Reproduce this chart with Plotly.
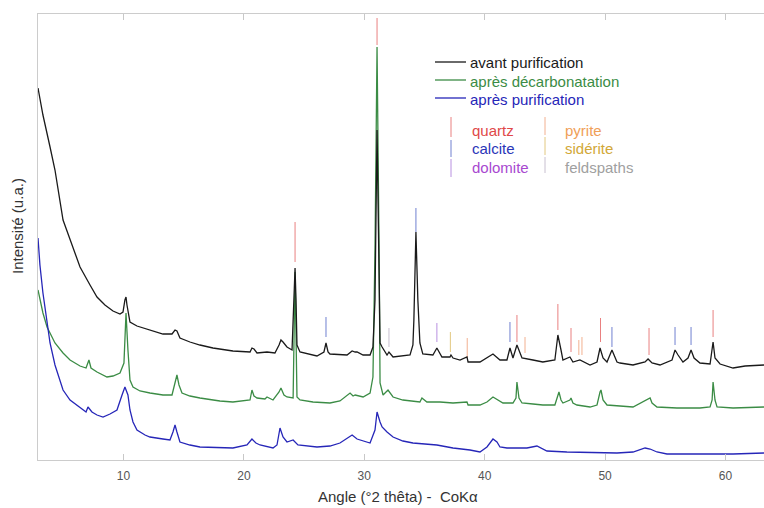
import plotly.graph_objects as go

# ---------------- data (2θ in degrees, intensity in arbitrary units) ----------------
avant_x = [2.90, 3.31, 3.90, 4.31, 4.98, 5.56, 6.39, 7.22, 7.80, 8.46, 9.13, 9.71, 9.96, 10.12, 10.21, 10.29,
           10.54, 11.12, 12.20, 13.28, 14.03, 14.28, 14.44, 14.69, 15.52, 16.35, 17.43, 19.09, 20.51, 20.67,
           20.84, 21.09, 21.92, 22.58, 22.92, 23.08, 23.25, 23.58, 24.00, 24.17, 24.25, 24.33, 24.41, 24.66,
           26.07, 26.65, 26.82, 26.99, 27.15, 28.57, 28.99, 29.24, 29.40, 29.90, 30.48, 30.72, 30.89, 31.06,
           31.23, 31.31, 31.48, 31.89, 32.05, 32.39, 33.80, 34.04, 34.12, 34.29, 34.45, 34.62, 34.86, 35.70,
           36.03, 36.45, 37.12, 37.20, 37.37, 37.95, 38.53, 38.62, 39.61, 40.19, 40.69, 41.27, 41.85, 42.10,
           42.35, 42.68, 43.10, 44.01, 44.83, 45.83, 46.08, 46.34, 46.50, 47.08, 47.33, 47.91, 48.75, 49.33,
           49.58, 49.83, 50.16, 50.57, 50.99, 51.24, 52.32, 53.32, 53.57, 53.90, 54.56, 55.56, 55.81, 56.06,
           56.47, 56.89, 57.14, 57.39, 57.88, 58.72, 58.97, 59.13, 59.55, 60.63, 61.63, 63.20]
avant_y = [372, 345, 313, 290, 240, 220, 193, 175, 163, 155, 149, 146, 148, 160, 163, 155,
           138, 134, 130, 126, 126, 130, 129, 122, 118, 115, 112, 109, 108, 112,
           111, 107, 108, 107, 115, 120, 118, 113, 110, 160, 192, 160, 115, 108,
           104, 108, 117, 108, 106, 105, 109, 108, 108, 105, 105, 113, 160, 330,
           160, 117, 113, 105, 108, 103, 105, 115, 140, 228, 160, 117, 106, 105,
           112, 103, 103, 105, 102, 100, 103, 98, 98, 102, 106, 100, 100, 112,
           102, 115, 102, 100, 98, 100, 125, 110, 100, 103, 98, 100, 95, 98,
           112, 102, 98, 110, 98, 97, 95, 98, 101, 97, 95, 100, 110, 105,
           98, 102, 110, 102, 97, 96, 118, 102, 96, 92, 94, 95]

decarb_x = [2.90, 3.31, 3.65, 4.31, 4.98, 5.56, 6.39, 6.89, 7.13, 7.30, 7.80, 8.30, 8.63, 9.13, 9.71, 10.04,
            10.21, 10.37, 10.54, 10.79, 11.37, 12.20, 13.28, 14.03, 14.28, 14.44, 14.61, 14.86, 15.52, 16.35,
            18.01, 19.09, 20.51, 20.67, 20.84, 21.09, 21.75, 21.92, 22.42, 22.92, 23.08, 23.33, 23.58, 24.09,
            24.25, 24.41, 24.66, 25.74, 27.15, 27.98, 28.82, 29.07, 29.24, 29.90, 30.48, 30.72, 30.89, 31.06,
            31.23, 31.31, 31.56, 31.97, 32.39, 33.21, 34.62, 34.79, 35.20, 36.29, 37.37, 38.53, 38.62, 39.61,
            40.19, 40.69, 41.52, 42.35, 42.60, 42.68, 42.85, 43.10, 44.01, 44.83, 45.83, 46.08, 46.17, 46.34,
            46.50, 47.08, 47.17, 47.33, 47.66, 48.75, 49.33, 49.58, 49.66, 49.83, 50.16, 52.32, 53.32, 53.48,
            53.74, 53.90, 54.31, 55.97, 57.88, 58.72, 58.89, 58.97, 59.13, 59.30, 60.63, 63.20]
decarb_y = [170, 147, 133, 117, 107, 100, 94, 92, 100, 92, 88, 85, 83, 84, 87, 97,
            147, 110, 80, 73, 69, 67, 65, 65, 78, 85, 75, 67, 64, 62,
            59, 58, 60, 70, 64, 62, 61, 63, 60, 68, 72, 65, 63, 62,
            188, 63, 60, 58, 57, 59, 67, 64, 65, 63, 67, 83, 210, 413,
            210, 77, 65, 70, 63, 60, 58, 62, 58, 58, 57, 58, 55, 55,
            58, 63, 57, 57, 62, 78, 62, 57, 56, 55, 55, 65, 68, 60,
            57, 60, 62, 57, 55, 53, 55, 68, 70, 60, 55, 53, 59, 60,
            62, 57, 53, 52, 52, 53, 60, 78, 60, 53, 52, 53]

purif_x = [2.90, 3.06, 3.31, 3.65, 3.90, 4.31, 4.98, 5.56, 6.39, 6.89, 7.05, 7.38, 7.80, 8.30, 8.88, 9.46,
           9.88, 10.12, 10.37, 10.54, 10.79, 11.12, 11.79, 12.20, 13.28, 13.86, 14.11, 14.28, 14.44, 14.69,
           15.52, 16.35, 19.09, 20.26, 20.67, 21.00, 21.34, 21.92, 22.42, 22.75, 23.00, 23.25, 23.58, 24.09,
           24.25, 24.49, 26.07, 27.15, 27.98, 28.82, 28.99, 29.40, 29.90, 30.48, 30.89, 31.06, 31.31, 31.48,
           31.89, 32.39, 33.21, 34.04, 36.03, 37.37, 38.78, 39.61, 40.19, 40.44, 40.69, 41.02, 41.27, 41.85,
           43.51, 44.34, 45.17, 46.83, 49.58, 50.99, 52.32, 52.90, 53.32, 53.74, 54.31, 55.14, 57.88, 60.63,
           63.20]
purif_y = [222, 195, 167, 140, 117, 95, 70, 60, 52, 48, 53, 48, 45, 43, 46, 50,
           65, 73, 65, 50, 38, 30, 25, 23, 21, 20, 28, 35, 28, 18,
           15, 13, 12, 15, 21, 17, 15, 13, 12, 15, 32, 23, 18, 20,
           18, 15, 13, 14, 17, 23, 25, 21, 19, 17, 30, 48, 38, 33,
           28, 23, 19, 17, 15, 12, 10, 8, 13, 17, 21, 18, 13, 12,
           12, 14, 9, 8, 7, 7, 8, 10, 12, 11, 8, 6, 6, 6,
           7]

# reference lines of minerals: angle, intensity at bottom / top of the mark
quartz_pos = [24.25, 31.06, 42.68, 46.08, 47.17, 49.62, 53.65, 58.97]
quartz_lo = [198, 415, 118, 130, 108, 118, 105, 123]
quartz_hi = [238, 442, 145, 156, 132, 142, 132, 150]
calcite_pos = [26.82, 34.29, 42.10, 50.57, 55.81, 57.14]
calcite_lo = [123, 228, 118, 113, 115, 115]
calcite_hi = [143, 252, 138, 133, 133, 133]
dolomite_pos = [36.03]
dolomite_lo = [118]
dolomite_hi = [137]
pyrite_pos = [38.55, 43.35, 47.82, 48.08]
pyrite_lo = [102, 107, 105, 105]
pyrite_hi = [122, 123, 120, 123]
siderite_pos = [37.15]
siderite_lo = [108]
siderite_hi = [128]
feldspath_pos = [32.05]
feldspath_lo = [113]
feldspath_hi = [132]

x_ticks = [10, 20, 30, 40, 50, 60]

# ---------------- figure ----------------
FONT = "Liberation Sans, Arial, sans-serif"
C_BLACK = "#1a1a1a"
C_GREEN = "#3b8c45"
C_BLUE = "#2626b8"

fig = go.Figure()

def seg(pos, lo, hi):
    xs, ys = [], []
    for p, a, b in zip(pos, lo, hi):
        xs += [p, p, None]
        ys += [a, b, None]
    return xs, ys

minerals = [
    (quartz_pos, quartz_lo, quartz_hi, "#e98080"),
    (calcite_pos, calcite_lo, calcite_hi, "#7080d0"),
    (dolomite_pos, dolomite_lo, dolomite_hi, "#b890e0"),
    (pyrite_pos, pyrite_lo, pyrite_hi, "#f2b090"),
    (siderite_pos, siderite_lo, siderite_hi, "#e2c880"),
    (feldspath_pos, feldspath_lo, feldspath_hi, "#c8c0d0"),
]
for pos, lo, hi, col in minerals:
    xs, ys = seg(pos, lo, hi)
    fig.add_trace(go.Scatter(x=xs, y=ys, mode="lines", line=dict(color=col, width=1),
                             showlegend=False, hoverinfo="skip"))

fig.add_trace(go.Scatter(x=decarb_x, y=decarb_y, mode="lines", line=dict(color=C_GREEN, width=1.3),
                         name="après décarbonatation", showlegend=False))
fig.add_trace(go.Scatter(x=purif_x, y=purif_y, mode="lines", line=dict(color=C_BLUE, width=1.3),
                         name="après purification", showlegend=False))
fig.add_trace(go.Scatter(x=avant_x, y=avant_y, mode="lines", line=dict(color=C_BLACK, width=1.3),
                         name="avant purification", showlegend=False))

W, H = 764, 508
L, R, T, B = 38, 0, 14, 48
pw, ph = W - L - R, H - T - B

def px(x):
    return (x - L) / pw

def py(y):
    return (H - B - y) / ph

shapes = []
annotations = []

# legend of the curves
for yy, txt, col in [(62, "avant purification", C_BLACK),
                     (80, "après décarbonatation", C_GREEN),
                     (98, "après purification", C_BLUE)]:
    shapes.append(dict(type="line", xref="paper", yref="paper", x0=px(435), x1=px(466),
                       y0=py(yy), y1=py(yy), line=dict(color=col, width=1.3)))
    annotations.append(dict(xref="paper", yref="paper", x=px(468), y=py(yy + 1), text=txt,
                            showarrow=False, xanchor="left", yanchor="middle",
                            font=dict(family=FONT, size=15, color=col)))

# legend of the minerals
key = [
    (451, 117, 137, "#e98080", 470, 130, "quartz", "#e04848"),
    (451, 140, 157, "#7080d0", 470, 148, "calcite", "#2a36b8"),
    (451, 159, 177, "#b890e0", 470, 167, "dolomite", "#a848d0"),
    (545, 117, 135, "#f2b090", 563, 130, "pyrite", "#f0a058"),
    (545, 137, 155, "#e2c880", 563, 148, "sidérite", "#d2a838"),
    (545, 157, 173, "#c8c0d0", 563, 167, "feldspaths", "#a0a0a0"),
]
for kx, y0, y1, lc, tx, ty, txt, tc in key:
    shapes.append(dict(type="line", xref="paper", yref="paper", x0=px(kx), x1=px(kx),
                       y0=py(y0), y1=py(y1), line=dict(color=lc, width=1)))
    annotations.append(dict(xref="paper", yref="paper", x=px(tx), y=py(ty), text=txt,
                            showarrow=False, xanchor="left", yanchor="middle",
                            font=dict(family=FONT, size=15, color=tc)))

# axis titles
annotations.append(dict(xref="paper", yref="paper", x=px(398), y=py(497), text="Angle (°2 thêta) -  CoKα",
                        showarrow=False, xanchor="center", yanchor="middle",
                        font=dict(family=FONT, size=15, color="#333333")))
annotations.append(dict(xref="paper", yref="paper", x=px(17), y=py(226), text="Intensité (u.a.)",
                        showarrow=False, xanchor="center", yanchor="middle", textangle=-90,
                        font=dict(family=FONT, size=15, color="#333333")))

fig.update_layout(
    width=W, height=H,
    margin=dict(l=L, r=R, t=T, b=B),
    paper_bgcolor="white", plot_bgcolor="white",
    showlegend=False,
    shapes=shapes, annotations=annotations,
    xaxis=dict(range=[2.90, 63.2], tickvals=x_ticks, ticks="inside", ticklen=6, tickcolor="#c8c8c8",
               showline=True, linecolor="#cccccc", linewidth=1, mirror="ticks", showgrid=False,
               zeroline=False, ticklabelstandoff=5,
               tickfont=dict(family=FONT, size=12, color="#555555")),
    yaxis=dict(range=[0, 446], showticklabels=False, ticks="", showline=True, linecolor="#cccccc",
               linewidth=1, showgrid=False, zeroline=False),
)

fig.write_html("out.html", config={"displayModeBar": False},
               post_script="document.body.style.margin='0px';document.body.style.overflow='hidden';")
